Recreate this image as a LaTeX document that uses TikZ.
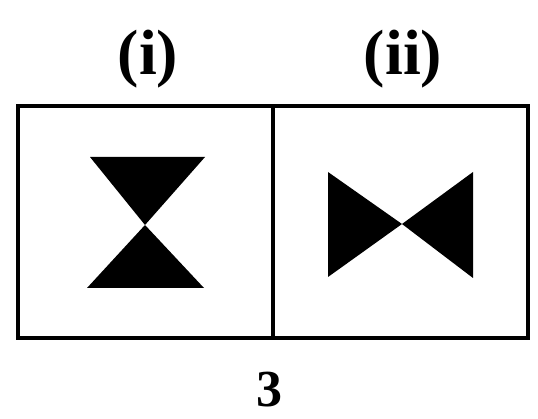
\documentclass[tikz,border=0pt]{standalone}
\usepackage{fontspec}
\setmainfont{Liberation Serif}
\usetikzlibrary{positioning}

\begin{document}
\begin{tikzpicture}[x=1pt, y=-1pt, node distance=18pt, cell/.style={draw,line width=4pt,outer sep=0pt,minimum width=255pt,minimum height=232pt}, tag/.style={font=\fontsize{64}{64}\selectfont\bfseries,inner sep=0pt}, blot/.style={fill=black}]
\useasboundingbox (0,0) rectangle (538,419);
\node[cell] (celli) at (145,222) {};
\node[cell, right=0pt of celli] (cellii) {};
\node[tag, above=of celli, xshift=3pt] (tagi) {(i)};
\node[tag, above=of cellii, xshift=3pt] (tagii) {(ii)};
\node[tag, font=\fontsize{52}{52}\selectfont\bfseries, below=34pt of celli.south east, xshift=-3pt] (fig) {3};
% hourglass
\fill[blot] (90,157) -- (205,157) -- (145,225) -- cycle;
\fill[blot] (87,288) -- (204,288) -- (145,225) -- cycle;
% bow tie
\fill[blot] (328,172) -- (402,224) -- (328,277) -- cycle;
\fill[blot] (473,172) -- (402,224) -- (473,278) -- cycle;
\end{tikzpicture}
\end{document}
